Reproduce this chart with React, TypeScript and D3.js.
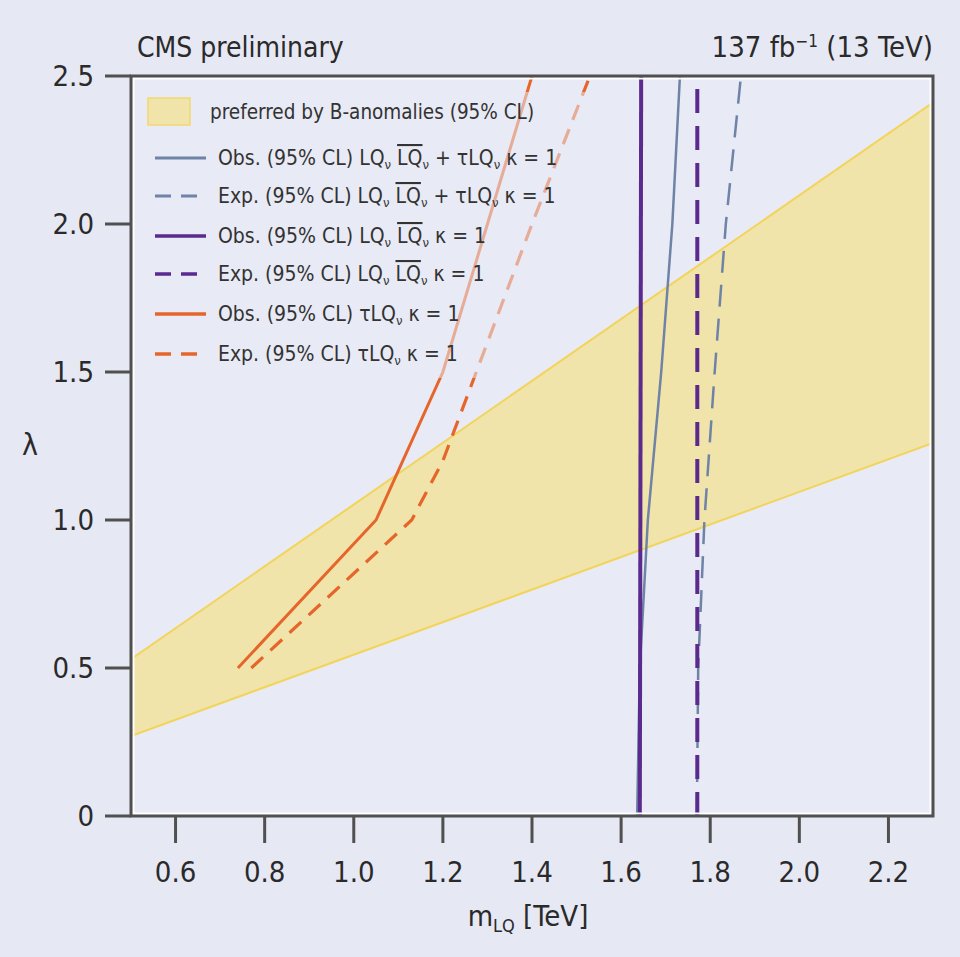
import React from "react";
import * as d3 from "d3";

const bandLowerX = [0.5, 2.3];
const bandLowerY = [0.27, 1.26];
const bandUpperY = [0.53, 2.41];

const orangeObsM = [0.74, 1.05, 1.2, 1.3, 1.4];
const orangeObsL = [0.5, 1.0, 1.5, 2.0, 2.5];
const orangeExpM = [0.77, 1.13, 1.2, 1.3, 1.4, 1.53];
const orangeExpL = [0.5, 1.0, 1.2, 1.6, 2.0, 2.5];
const purpleObsM = [1.642, 1.645];
const purpleObsL = [0, 2.5];
const purpleExpM = [1.771, 1.771];
const purpleExpL = [0, 2.5];
const blueObsM = [1.636, 1.642, 1.66, 1.69, 1.715, 1.732];
const blueObsL = [0, 0.5, 1.0, 1.5, 2.0, 2.5];
const blueExpM = [1.77, 1.773, 1.787, 1.81, 1.835, 1.869];
const blueExpL = [0, 0.5, 1.0, 1.5, 2.0, 2.5];

const xTicks = [0.6, 0.8, 1.0, 1.2, 1.4, 1.6, 1.8, 2.0, 2.2];
const yTicks = [0, 0.5, 1.0, 1.5, 2.0, 2.5];
const yTickLabels = ["0", "0.5", "1.0", "1.5", "2.0", "2.5"];

const ORANGE = "#e5652a";
const PURPLE = "#5a2a8c";
const BLUE = "#6e83a6";
const BG = "#e8eaf5";
const FONT = "'Liberation Sans Narrow', 'DejaVu Sans Condensed', sans-serif";

const W = 960, H = 957;
const L = 131, R = 933, T = 76, B = 816;

export default function App() {
  const x = d3.scaleLinear().domain([0.5, 2.3]).range([L, R]);
  const y = d3.scaleLinear().domain([0, 2.5]).range([B, T]);
  const line = d3.line<[number, number]>().x(d => x(d[0])).y(d => y(d[1]));
  const zip = (a: number[], b: number[]) => a.map((v, i) => [v, b[i]] as [number, number]);

  const band = d3.area<number>()
    .x(d => x(d))
    .y0((d, i) => y(bandLowerY[i]))
    .y1((d, i) => y(bandUpperY[i]));

  const curves = [
    { d: zip(orangeObsM, orangeObsL), c: ORANGE, w: 3, dash: "" },
    { d: zip(orangeExpM, orangeExpL), c: ORANGE, w: 3.2, dash: "16 10" },
    { d: zip(blueObsM, blueObsL), c: BLUE, w: 2.5, dash: "" },
    { d: zip(blueExpM, blueExpL), c: BLUE, w: 2.5, dash: "22 12" },
    { d: zip(purpleObsM, purpleObsL), c: PURPLE, w: 4, dash: "" },
    { d: zip(purpleExpM, purpleExpL), c: PURPLE, w: 4, dash: "24 13" },
  ];

  const sub = (t: string) => (
    <tspan baselineShift="-30%" fontSize={13}>{t}</tspan>
  );
  const LQ = (over: boolean) => (
    <>
      <tspan textDecoration={over ? "overline" : undefined}>LQ</tspan>
      {sub("ν")}
    </>
  );
  const legendRows = [
    { c: BLUE, dash: "", w: 3, label: <>Obs. (95% CL) {LQ(false)} {LQ(true)} + τ{LQ(false)} κ = 1</> },
    { c: BLUE, dash: "16 10", w: 3, label: <>Exp. (95% CL) {LQ(false)} {LQ(true)} + τ{LQ(false)} κ = 1</> },
    { c: PURPLE, dash: "", w: 3.5, label: <>Obs. (95% CL) {LQ(false)} {LQ(true)} κ = 1</> },
    { c: PURPLE, dash: "16 10", w: 3.5, label: <>Exp. (95% CL) {LQ(false)} {LQ(true)} κ = 1</> },
    { c: ORANGE, dash: "", w: 3.5, label: <>Obs. (95% CL) τ{LQ(false)} κ = 1</> },
    { c: ORANGE, dash: "16 10", w: 3.5, label: <>Exp. (95% CL) τ{LQ(false)} κ = 1</> },
  ];
  const rowY = [158, 196, 236, 274, 314, 354];

  return (
    <svg width={W} height={H} style={{ position: "absolute", left: 0, top: 0, background: "#e6e8f4" }} fontFamily={FONT}>
      <defs>
        <clipPath id="plot"><rect x={L} y={T} width={R - L} height={B - T} /></clipPath>
        <mask id="legfade" maskUnits="userSpaceOnUse" x={0} y={0} width={W} height={H}>
          <rect x={0} y={0} width={W} height={H} fill="#fff" />
          <rect x={138} y={92} width={470} height={286} fill="#777" />
        </mask>
      </defs>
      <rect x={0} y={0} width={W} height={H} fill="#e6e8f4" />
      <rect x={L} y={T} width={R - L} height={B - T} fill={BG} />
      <g clipPath="url(#plot)">
        <path d={band(bandLowerX) || ""} fill="#f1e4ab" />
        <path d={line(zip(bandLowerX, bandUpperY)) || ""} fill="none" stroke="#f2d45a" strokeWidth={2} />
        <path d={line(zip(bandLowerX, bandLowerY)) || ""} fill="none" stroke="#f2d45a" strokeWidth={2} />
        <g mask="url(#legfade)">
          {curves.map((c, i) => (
            <path key={i} d={line(c.d) || ""} fill="none" stroke={c.c} strokeWidth={c.w} strokeDasharray={c.dash || undefined} />
          ))}
        </g>
      </g>
      {/* legend */}
      <rect x={148} y={98} width={42} height={27} fill="#f1e4ab" stroke="#f2d870" strokeWidth={1.5} />
      <text x={210} y={119} fontSize={20.5} fill="#333">preferred by B-anomalies (95% CL)</text>
      {legendRows.map((r, i) => (
        <g key={i}>
          <line x1={155} x2={206} y1={rowY[i]} y2={rowY[i]} stroke={r.c} strokeWidth={r.w} strokeDasharray={r.dash || undefined} />
          <text x={218} y={rowY[i] + 7} fontSize={21} fill="#333">{r.label}</text>
        </g>
      ))}
      {/* frame */}
      <rect x={L + 2.5} y={T + 2.5} width={R - L - 5} height={B - T - 5} fill="none" stroke="#ffffff" strokeWidth={2} />
      <rect x={L} y={T} width={R - L} height={B - T} fill="none" stroke="#505050" strokeWidth={3} />
      {/* y ticks */}
      {yTicks.map((t, i) => (
        <g key={t}>
          <line x1={105} x2={L} y1={y(t)} y2={y(t)} stroke="#505050" strokeWidth={3} />
          <text x={94} y={y(t) + 10} textAnchor="end" fontSize={29} fill="#2a2a2a">{yTickLabels[i]}</text>
        </g>
      ))}
      {/* x ticks */}
      {xTicks.map(t => (
        <g key={t}>
          <line x1={x(t)} x2={x(t)} y1={B} y2={B + 27} stroke="#505050" strokeWidth={3} />
          <text x={x(t)} y={B + 66} textAnchor="middle" fontSize={29} fill="#2a2a2a">{t.toFixed(1)}</text>
        </g>
      ))}
      <text x={528} y={926} textAnchor="middle" fontSize={29} fill="#2a2a2a">
        m<tspan baselineShift="-35%" fontSize={18}>LQ</tspan> [TeV]
      </text>
      <text x={30} y={455} textAnchor="middle" fontSize={30} fill="#2a2a2a">λ</text>
      <text x={137} y={57} fontSize={28} fill="#2a2a2a">CMS preliminary</text>
      <text x={933} y={57} textAnchor="end" fontSize={29} fill="#2a2a2a">
        137 fb<tspan baselineShift="super" fontSize={17}>−1</tspan> (13 TeV)
      </text>
    </svg>
  );
}
